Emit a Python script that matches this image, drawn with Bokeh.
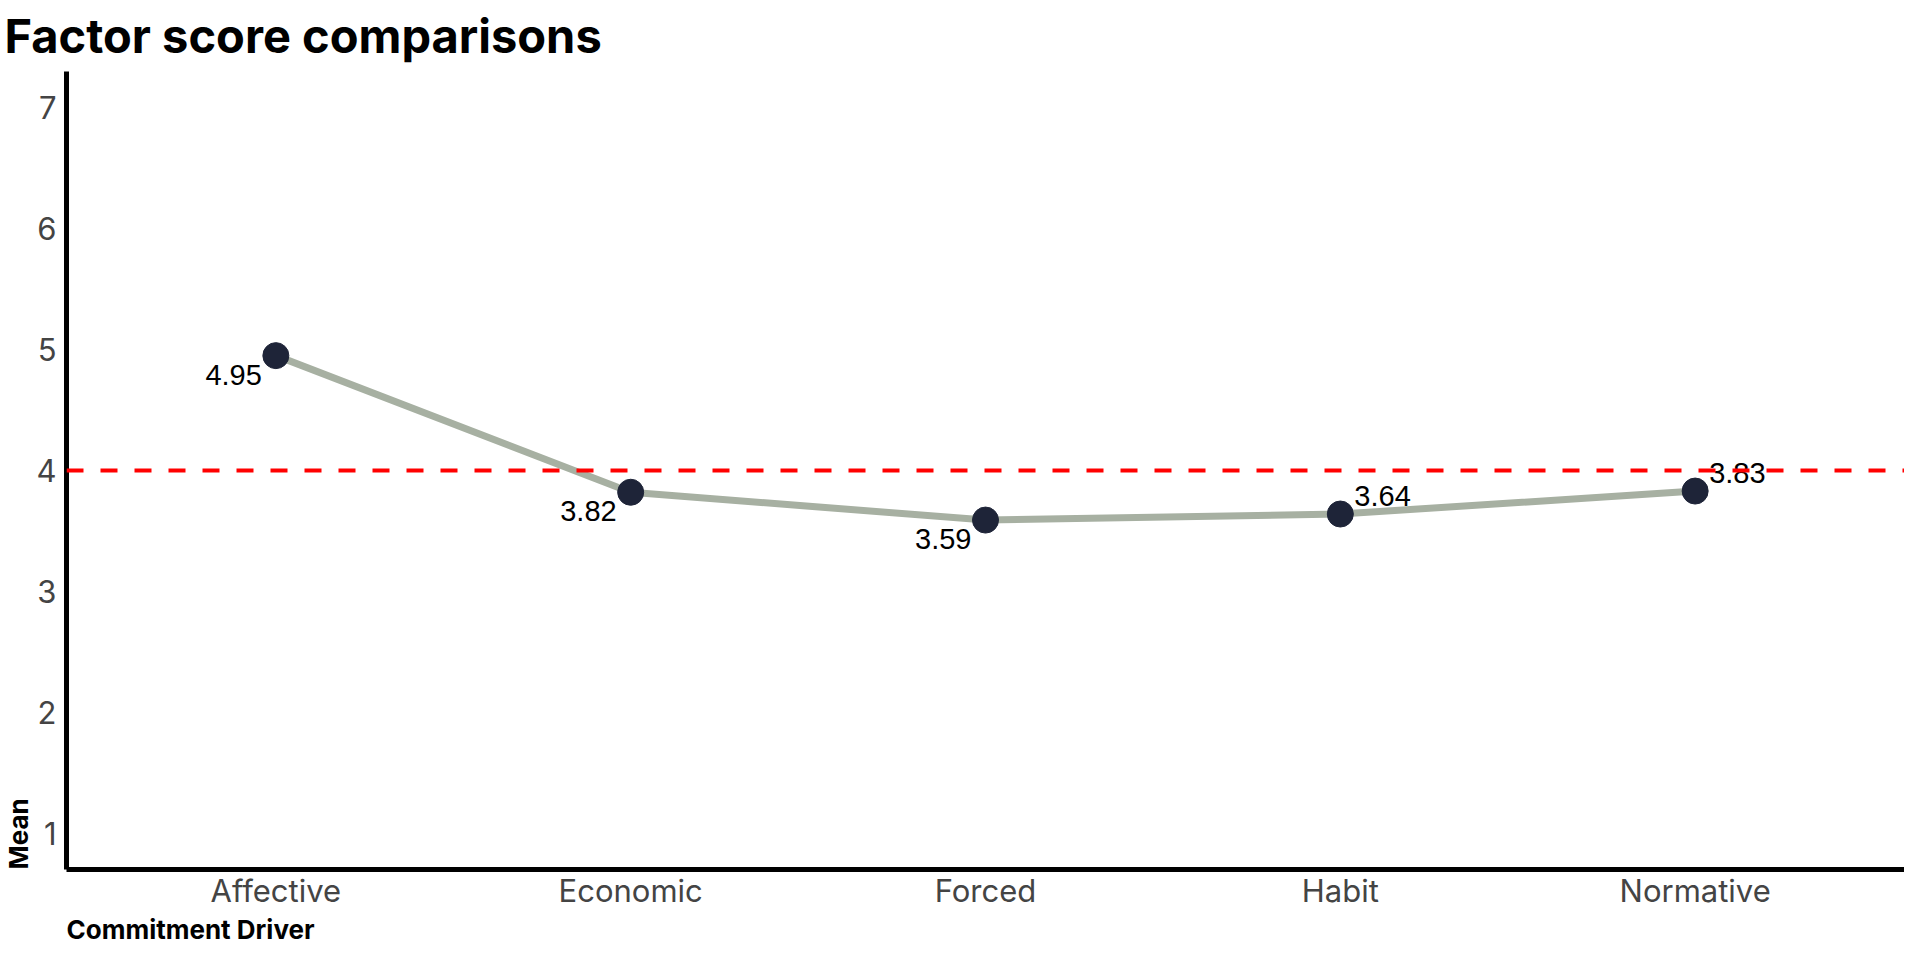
from bokeh.plotting import figure
from bokeh.models import FactorRange, Range1d, Title, ColumnDataSource, FixedTicker, Span
from bokeh.core.properties import value
from bokeh.embed import file_html
from bokeh.resources import INLINE

# ---- data ----
drivers = ["Affective", "Economic", "Forced", "Habit", "Normative"]
means = [4.95, 3.82, 3.59, 3.64, 3.83]
mean_labels = ["4.95", "3.82", "3.59", "3.64", "3.83"]
y_ticks = [1, 2, 3, 4, 5, 6, 7]
reference_value = 4

# ---- label placement (style) ----
label_sides = ["below_left", "below_left", "below_left", "above_right", "above_right"]
x_offs = [-14 if s == "below_left" else 14 for s in label_sides]
y_offs = [19 if s == "below_left" else -18 for s in label_sides]
aligns = ["right" if s == "below_left" else "left" for s in label_sides]

FONT = "Inter"

p = figure(
    width=1904, height=944,
    x_range=FactorRange(factors=drivers, range_padding=0.036),
    y_range=Range1d(0.7, 7.3),
    output_backend="svg", toolbar_location=None,
    title="Factor score comparisons",
    min_border_right=0, min_border_left=0, min_border_top=0, min_border_bottom=0,
)
p.outline_line_color = None
p.background_fill_color = "white"
p.border_fill_color = "white"
p.xgrid.visible = False
p.ygrid.visible = False

p.title.align = "left"
p.title.vertical_align = "top"
p.title.text_font = FONT
p.title.text_font_size = "47px"
p.title.text_font_style = "bold"
p.title.text_color = "black"
p.title.offset = -62
p.title.standoff = 12

for ax in (p.xaxis[0], p.yaxis[0]):
    ax.axis_line_width = 5
    ax.axis_line_color = "black"
    ax.major_tick_line_color = None
    ax.minor_tick_line_color = None
    ax.major_tick_out = 0
    ax.major_tick_in = 0
    ax.major_label_text_font = FONT
    ax.major_label_text_font_size = "31px"
    ax.major_label_text_color = "#444444"

p.yaxis[0].ticker = FixedTicker(ticks=y_ticks)
p.yaxis[0].major_label_standoff = 10
p.xaxis[0].major_label_standoff = 2

p.add_layout(Title(text="Commitment Driver", align="left", text_font=FONT,
                   text_font_size="26px", text_font_style="bold",
                   text_color="black", standoff=0), "below")
p.add_layout(Title(text="Mean", align="left", text_font=FONT,
                   text_font_size="26px", text_font_style="bold",
                   text_color="black", standoff=0), "left")

p.add_layout(Span(location=reference_value, dimension="width", line_color="#ff0000",
                  line_width=4, line_dash="17 17"))

src = ColumnDataSource(dict(x=drivers, y=means, text=mean_labels,
                            xo=x_offs, yo=y_offs, al=aligns))
p.line("x", "y", source=src, line_color="#a7b0a2", line_width=7)
p.scatter("x", "y", source=src, size=26, fill_color="#1e2438", line_color="#1e2438")
p.text("x", "y", text="text", source=src, x_offset="xo", y_offset="yo",
       text_align="al", text_baseline="middle", text_font=value("Liberation Sans"),
       text_font_size="29px", text_color="black")

open("out.html", "w").write(file_html(p, INLINE))
